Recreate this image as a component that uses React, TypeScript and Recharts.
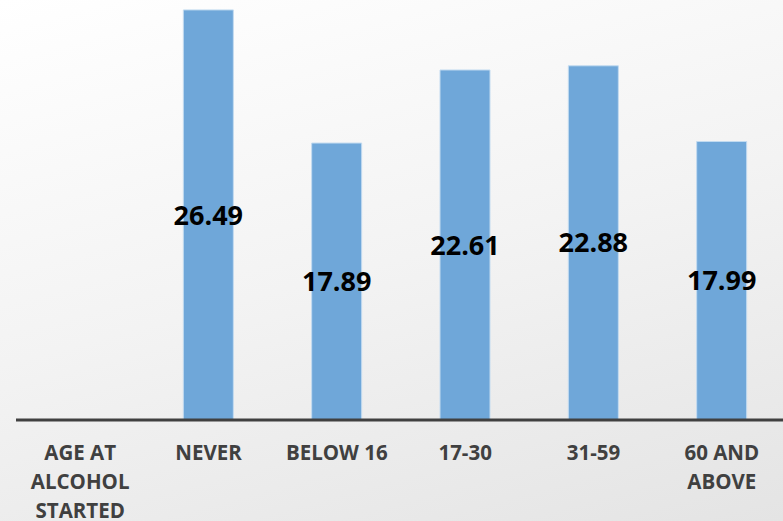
import { BarChart, Bar, XAxis, YAxis, LabelList } from "recharts";

const categories = ["AGE AT ALCOHOL STARTED", "NEVER", "BELOW 16", "17-30", "31-59", "60 AND ABOVE"];
const values: (number | null)[] = [null, 26.49, 17.89, 22.61, 22.88, 17.99];

const data = categories.map((name, i) => ({ name, value: values[i] }));

// break labels into short lines, like the original's narrow category slots
function wrapWords(label: string, maxChars: number) {
  const lines: string[] = [];
  let cur = "";
  for (const w of label.split(" ")) {
    const next = cur ? cur + " " + w : w;
    if (next.length > maxChars && cur) {
      lines.push(cur);
      cur = w;
    } else {
      cur = next;
    }
  }
  if (cur) lines.push(cur);
  return lines;
}

function CategoryTick(props: any) {
  const { x, payload } = props;
  const lines = wrapWords(String(payload.value), 8);
  return (
    <text
      x={x}
      y={460}
      textAnchor="middle"
      fill="#404040"
      style={{ fontFamily: "Open Sans", fontWeight: 700, fontSize: 20.5 }}
    >
      {lines.map((l, i) => (
        <tspan key={i} x={x} dy={i === 0 ? 0 : 29}>
          {l}
        </tspan>
      ))}
    </text>
  );
}

export default function App() {
  return (
    <div
      style={{
        position: "absolute",
        left: 0,
        top: 0,
        width: 783,
        height: 521,
        overflow: "hidden",
        background: "linear-gradient(165deg, #ffffff 0%, #f3f3f3 50%, #e4e4e4 100%)",
      }}
    >
      <BarChart width={786} height={521} data={data} margin={{ top: 0, right: 0, left: 16, bottom: 0 }} barSize={50}>
        <YAxis hide domain={[0, 27.13]} />
        <XAxis
          dataKey="name"
          height={101}
          interval={0}
          tickLine={false}
          axisLine={{ stroke: "#404040", strokeWidth: 3 }}
          tick={<CategoryTick />}
        />
        <Bar dataKey="value" fill="#6fa7d9" stroke="#c3dbf0" strokeWidth={1} isAnimationActive={false}>
          <LabelList
            dataKey="value"
            position="center"
            fill="#000000"
            style={{ fontFamily: "Open Sans", fontWeight: 700, fontSize: 27 }}
          />
        </Bar>
      </BarChart>
    </div>
  );
}
